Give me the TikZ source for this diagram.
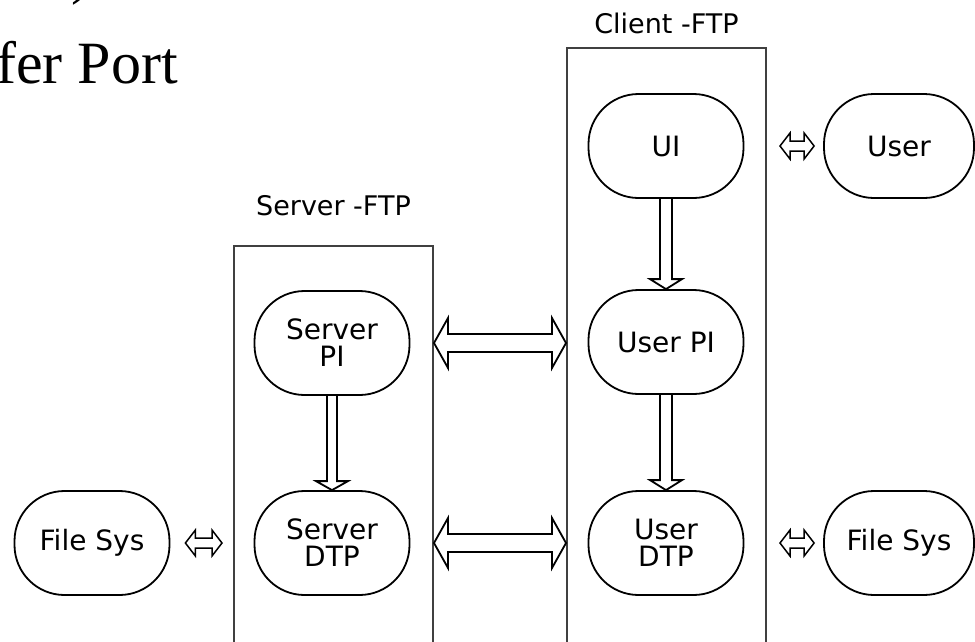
\documentclass[tikz,border=0pt]{standalone}
\usepackage{fontspec}
\newfontfamily\diafont{DejaVu Sans}
\newfontfamily\slidefont{Liberation Serif}
\usetikzlibrary{positioning,calc}

% hollow block arrow, heads at both ends: from, to, half shaft, half head, head length
\newcommand\bothway[6][]{%
  \draw[hollow,#1] let \p1=(#2), \p2=(#3), \n1={\x2-\x1-2*#6} in
    (\p1) -- ++(#6pt,#5pt) -- ++(0pt,#4pt-#5pt) -- ++(\n1,0pt)
    -- ++(0pt,#5pt-#4pt) -- (\p2) -- ++(-#6pt,-#5pt) -- ++(0pt,#5pt-#4pt)
    -- ++(-\n1,0pt) -- ++(0pt,#4pt-#5pt) -- cycle;}
% hollow block arrow pointing down, open at its top
\newcommand\downway[6][]{%
  \draw[hollow,#1] let \p1=(#2), \p2=(#3), \n1={\y1-\y2-#6} in
    (\p1) ++(-#4pt,0pt) -- ++(0pt,-\n1) -- ++(#4pt-#5pt,0pt) -- (\p2)
    -- ++(#5pt,#6pt) -- ++(#4pt-#5pt,0pt) -- ++(0pt,\n1);}

\begin{document}
\begin{tikzpicture}[x=1pt,y=-1pt,node distance=200pt,on grid,
  every node/.style={font=\diafont\fontsize{28}{27}\selectfont},
  proc/.style={draw,line width=1.8pt,rounded corners=50pt,minimum width=155pt,
    minimum height=104pt,align=center,inner sep=0pt},
  frame/.style={draw=black!75,line width=2pt,minimum width=199pt,
    minimum height=620pt,anchor=north west,inner sep=0pt},
  boxlbl/.style={font=\diafont\fontsize{27}{27}\selectfont,anchor=base},
  slide/.style={font=\slidefont\fontsize{60}{72}\selectfont,anchor=base west,inner sep=0pt},
  hollow/.style={draw,line width=1.8pt,line join=miter}]
  \useasboundingbox (0,0) rectangle (975,641);

  % slide title, cut off by the crop
  \node[slide] (scrap) at (71,-8) {)};
  \node[slide] (title) at (-4,83) {fer Port};

  \node[frame] (cbox) at (566,47) {};
  \node[frame] (sbox) at (233,245) {};
  \node[boxlbl] (cbox_lbl) [above=14pt of cbox.north, anchor=base] {Client -FTP};
  \node[boxlbl] (sbox_lbl) [above=30pt of sbox.north, anchor=base] {Server -FTP};

  \node[proc] (ui) at (666,146) {UI};
  \node[proc] (upi) [below=196pt of ui] {User PI};
  \node[proc] (udtp) [below=201pt of upi] {User\\DTP};
  \node[proc] (spi) at (332,343) {Server\\PI};
  \node[proc] (sdtp) [below=200pt of spi] {Server\\DTP};
  \node[proc] (fs_l) [left=240pt of sdtp] {File Sys};
  \node[proc, minimum width=150pt] (usr) [right=233pt of ui] {User};
  \node[proc, minimum width=150pt] (fs_r) [right=233pt of udtp] {File Sys};

  \downway{ui.south}{upi.north}{6}{16}{10}
  \downway{upi.south}{udtp.north}{6}{16}{10}
  \downway{spi.south}{sdtp.north}{5}{16}{9}
  \bothway{sbox.east |- spi}{cbox.west |- spi}{9}{25}{14}
  \bothway{sbox.east |- sdtp}{cbox.west |- sdtp}{9}{25}{14}
  \bothway[line width=1.5pt]{$(cbox.east |- usr)+(13pt,0pt)$}{$(usr.west)+(-9pt,0pt)$}{5}{13}{10}
  \bothway[line width=1.5pt]{$(cbox.east |- fs_r)+(13pt,0pt)$}{$(fs_r.west)+(-9pt,0pt)$}{5}{13}{10}
  \bothway[line width=1.5pt]{$(fs_l.east)+(15pt,0pt)$}{$(sbox.west |- fs_l)+(-11pt,0pt)$}{5}{13}{10}
\end{tikzpicture}
\end{document}
